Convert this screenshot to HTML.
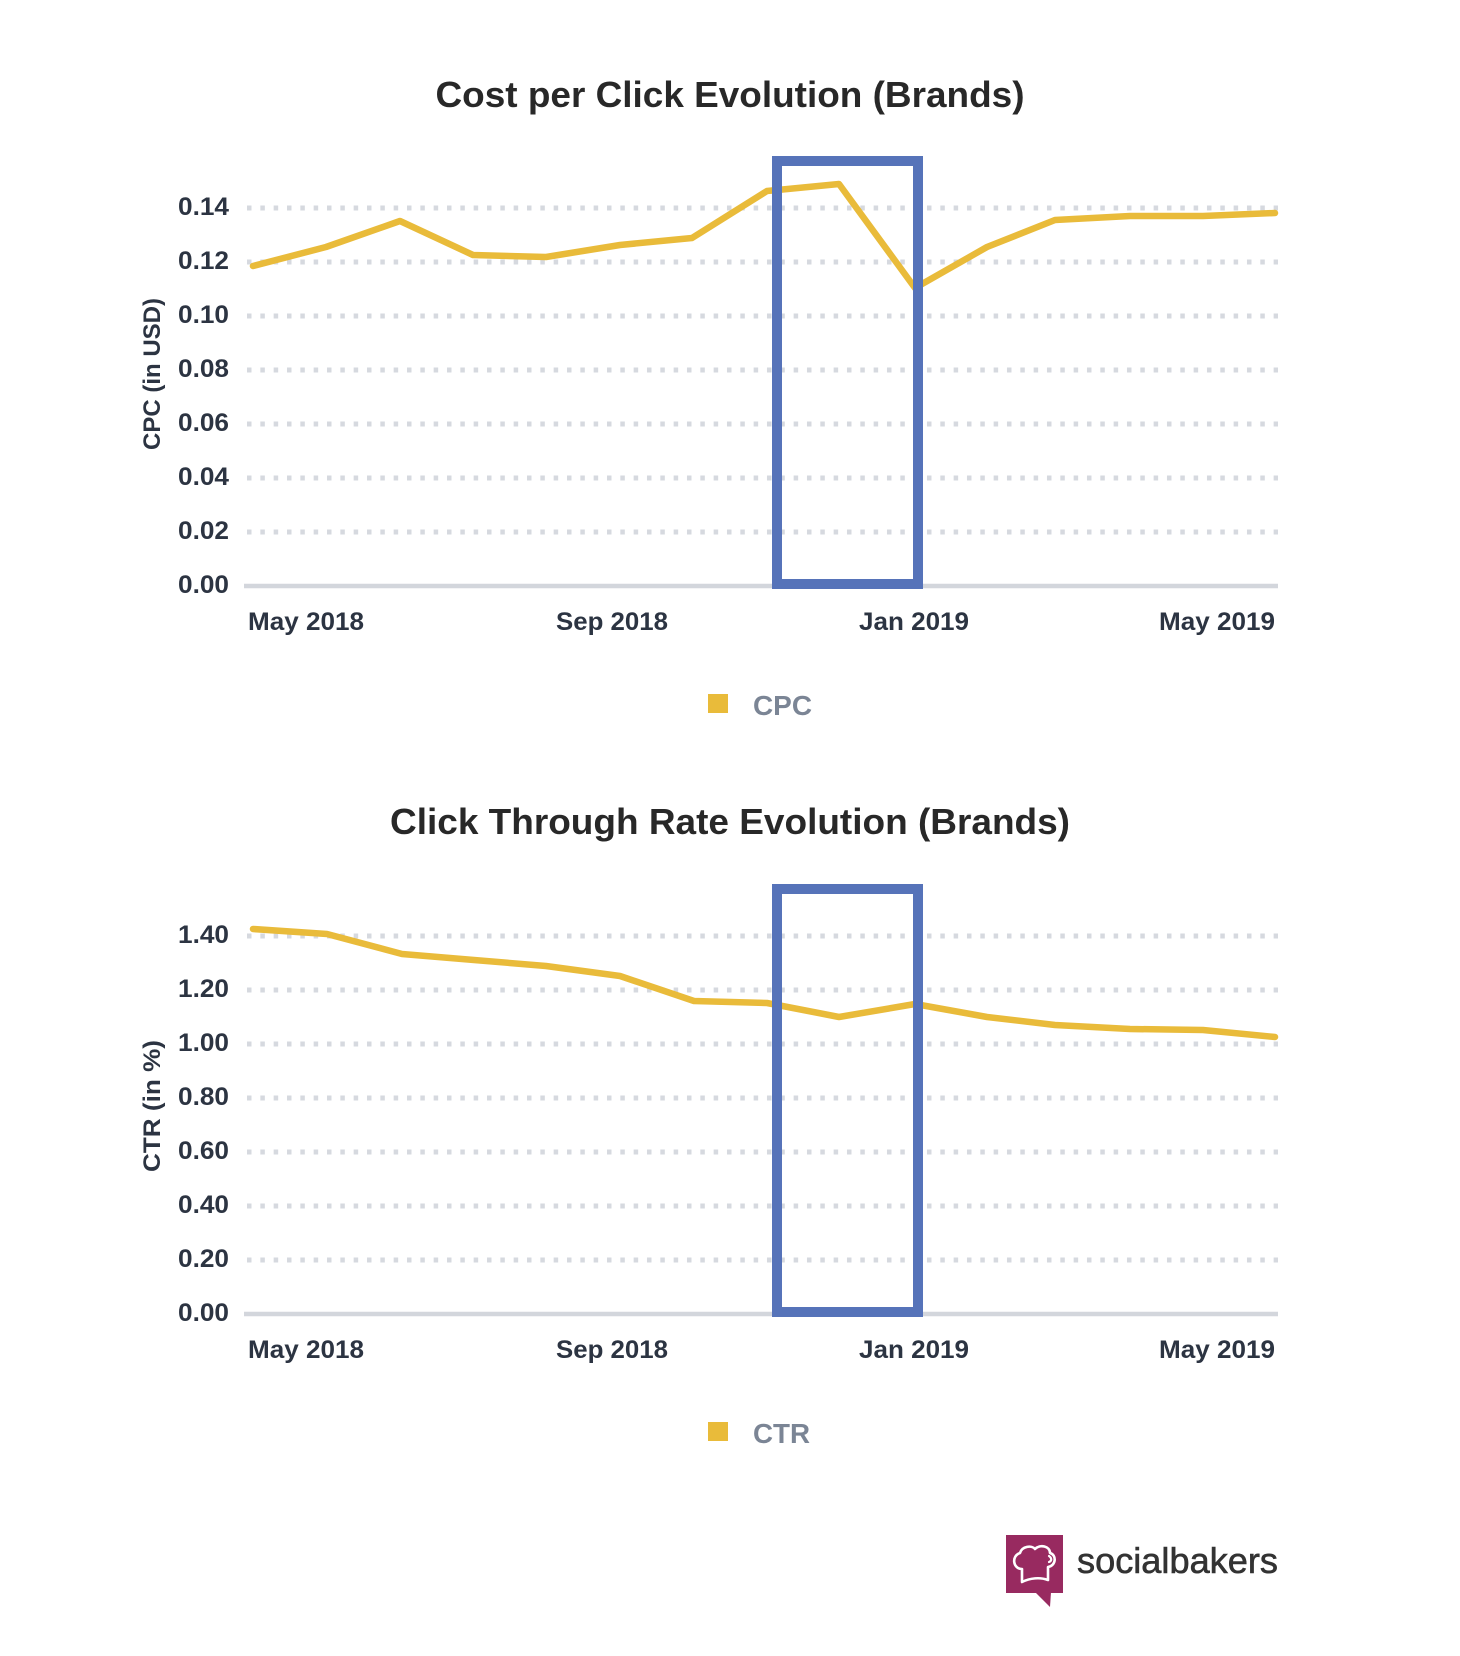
<!DOCTYPE html>
<html>
<head>
<meta charset="utf-8">
<style>
  html, body { margin: 0; padding: 0; background: #ffffff; }
  svg { display: block; }
  text { font-family: "Liberation Sans", "DejaVu Sans", sans-serif; }
</style>
</head>
<body>
<svg width="1460" height="1656" viewBox="0 0 1460 1656" xmlns="http://www.w3.org/2000/svg">
  <rect x="0" y="0" width="1460" height="1656" fill="#ffffff"/>

  <!-- ================= CHART 1 ================= -->
  <text x="730" y="107" text-anchor="middle" font-size="36" font-weight="bold" fill="#282828" textLength="589" lengthAdjust="spacingAndGlyphs">Cost per Click Evolution (Brands)</text>

  <g stroke="#d6d9df" stroke-width="5" stroke-dasharray="4.5 8.833">
    <line x1="247" y1="208" x2="1278" y2="208"/>
    <line x1="247" y1="262" x2="1278" y2="262"/>
    <line x1="247" y1="316" x2="1278" y2="316"/>
    <line x1="247" y1="370" x2="1278" y2="370"/>
    <line x1="247" y1="424" x2="1278" y2="424"/>
    <line x1="247" y1="478" x2="1278" y2="478"/>
    <line x1="247" y1="532" x2="1278" y2="532"/>
  </g>
  <line x1="244" y1="586" x2="1278" y2="586" stroke="#d3d6dc" stroke-width="4.5"/>

  <g font-size="25" font-weight="bold" fill="#2c3442" text-anchor="end">
    <text x="229" y="215" textLength="51" lengthAdjust="spacingAndGlyphs">0.14</text>
    <text x="229" y="269" textLength="51" lengthAdjust="spacingAndGlyphs">0.12</text>
    <text x="229" y="323" textLength="51" lengthAdjust="spacingAndGlyphs">0.10</text>
    <text x="229" y="377" textLength="51" lengthAdjust="spacingAndGlyphs">0.08</text>
    <text x="229" y="431" textLength="51" lengthAdjust="spacingAndGlyphs">0.06</text>
    <text x="229" y="485" textLength="51" lengthAdjust="spacingAndGlyphs">0.04</text>
    <text x="229" y="539" textLength="51" lengthAdjust="spacingAndGlyphs">0.02</text>
    <text x="229" y="593" textLength="51" lengthAdjust="spacingAndGlyphs">0.00</text>
  </g>

  <text transform="translate(160,374) rotate(-90)" text-anchor="middle" font-size="24" font-weight="bold" fill="#2c3442" textLength="152" lengthAdjust="spacingAndGlyphs">CPC (in USD)</text>

  <g font-size="25" font-weight="bold" fill="#2c3442">
    <text x="248" y="630" textLength="116" lengthAdjust="spacingAndGlyphs">May 2018</text>
    <text x="556" y="630" textLength="112" lengthAdjust="spacingAndGlyphs">Sep 2018</text>
    <text x="859" y="630" textLength="110" lengthAdjust="spacingAndGlyphs">Jan 2019</text>
    <text x="1159" y="630" textLength="116" lengthAdjust="spacingAndGlyphs">May 2019</text>
  </g>

  <polyline fill="none" stroke="#e9bb3a" stroke-width="6.5" stroke-linejoin="round" stroke-linecap="round"
    points="253,266 326,247 400,221 473,255 546,257 620,245 692,238 767,191 839,184 915,288 987,247 1055,220 1130,216 1203,216 1275,213"/>

  <rect x="777" y="161" width="141" height="423" fill="none" stroke="#5673b9" stroke-width="10"/>

  <rect x="708" y="694" width="20" height="19" fill="#e9bb3a"/>
  <text x="753" y="715" font-size="28" font-weight="bold" fill="#7b8595" textLength="59" lengthAdjust="spacingAndGlyphs">CPC</text>

  <!-- ================= CHART 2 ================= -->
  <text x="730" y="834" text-anchor="middle" font-size="36" font-weight="bold" fill="#282828" textLength="680" lengthAdjust="spacingAndGlyphs">Click Through Rate Evolution (Brands)</text>

  <g stroke="#d6d9df" stroke-width="5" stroke-dasharray="4.5 8.833">
    <line x1="247" y1="936" x2="1278" y2="936"/>
    <line x1="247" y1="990" x2="1278" y2="990"/>
    <line x1="247" y1="1044" x2="1278" y2="1044"/>
    <line x1="247" y1="1098" x2="1278" y2="1098"/>
    <line x1="247" y1="1152" x2="1278" y2="1152"/>
    <line x1="247" y1="1206" x2="1278" y2="1206"/>
    <line x1="247" y1="1260" x2="1278" y2="1260"/>
  </g>
  <line x1="244" y1="1314" x2="1278" y2="1314" stroke="#d3d6dc" stroke-width="4.5"/>

  <g font-size="25" font-weight="bold" fill="#2c3442" text-anchor="end">
    <text x="229" y="943" textLength="51" lengthAdjust="spacingAndGlyphs">1.40</text>
    <text x="229" y="997" textLength="51" lengthAdjust="spacingAndGlyphs">1.20</text>
    <text x="229" y="1051" textLength="51" lengthAdjust="spacingAndGlyphs">1.00</text>
    <text x="229" y="1105" textLength="51" lengthAdjust="spacingAndGlyphs">0.80</text>
    <text x="229" y="1159" textLength="51" lengthAdjust="spacingAndGlyphs">0.60</text>
    <text x="229" y="1213" textLength="51" lengthAdjust="spacingAndGlyphs">0.40</text>
    <text x="229" y="1267" textLength="51" lengthAdjust="spacingAndGlyphs">0.20</text>
    <text x="229" y="1321" textLength="51" lengthAdjust="spacingAndGlyphs">0.00</text>
  </g>

  <text transform="translate(160,1106) rotate(-90)" text-anchor="middle" font-size="24" font-weight="bold" fill="#2c3442" textLength="132" lengthAdjust="spacingAndGlyphs">CTR (in %)</text>

  <g font-size="25" font-weight="bold" fill="#2c3442">
    <text x="248" y="1358" textLength="116" lengthAdjust="spacingAndGlyphs">May 2018</text>
    <text x="556" y="1358" textLength="112" lengthAdjust="spacingAndGlyphs">Sep 2018</text>
    <text x="859" y="1358" textLength="110" lengthAdjust="spacingAndGlyphs">Jan 2019</text>
    <text x="1159" y="1358" textLength="116" lengthAdjust="spacingAndGlyphs">May 2019</text>
  </g>

  <polyline fill="none" stroke="#e9bb3a" stroke-width="6.5" stroke-linejoin="round" stroke-linecap="round"
    points="253,929 327,934 402,954 474,960 546,966 620,976 694,1001 767,1003 839,1017 915,1004 987,1017 1055,1025 1130,1029 1203,1030 1275,1037"/>

  <rect x="777" y="889" width="141" height="423" fill="none" stroke="#5673b9" stroke-width="10"/>

  <rect x="708" y="1422" width="20" height="19" fill="#e9bb3a"/>
  <text x="753" y="1443" font-size="28" font-weight="bold" fill="#7b8595" textLength="57" lengthAdjust="spacingAndGlyphs">CTR</text>

  <!-- ================= LOGO ================= -->
  <rect x="1006" y="1535" width="57" height="58" fill="#982a60"/>
  <polygon points="1035,1592 1051,1592 1050,1607" fill="#982a60"/>
  <path d="M1022,1582 L1022,1569 C1013,1569 1011,1556 1020,1553 C1022,1546 1032,1545 1035,1549 C1040,1544 1050,1546 1050,1553 C1057,1555 1056,1566 1048,1567 L1048,1580 C1040,1577 1030,1578 1022,1582 Z"
        fill="none" stroke="#ffffff" stroke-width="2.6" stroke-linejoin="round"/>
  <path d="M1049,1556 C1052,1558 1052,1561 1049,1562" fill="none" stroke="#ffffff" stroke-width="2.2" stroke-linecap="round"/>
  <text x="1077" y="1573" font-size="36" fill="#333333" stroke="#333333" stroke-width="0.6" textLength="201" lengthAdjust="spacingAndGlyphs">socialbakers</text>
</svg>
</body>
</html>
